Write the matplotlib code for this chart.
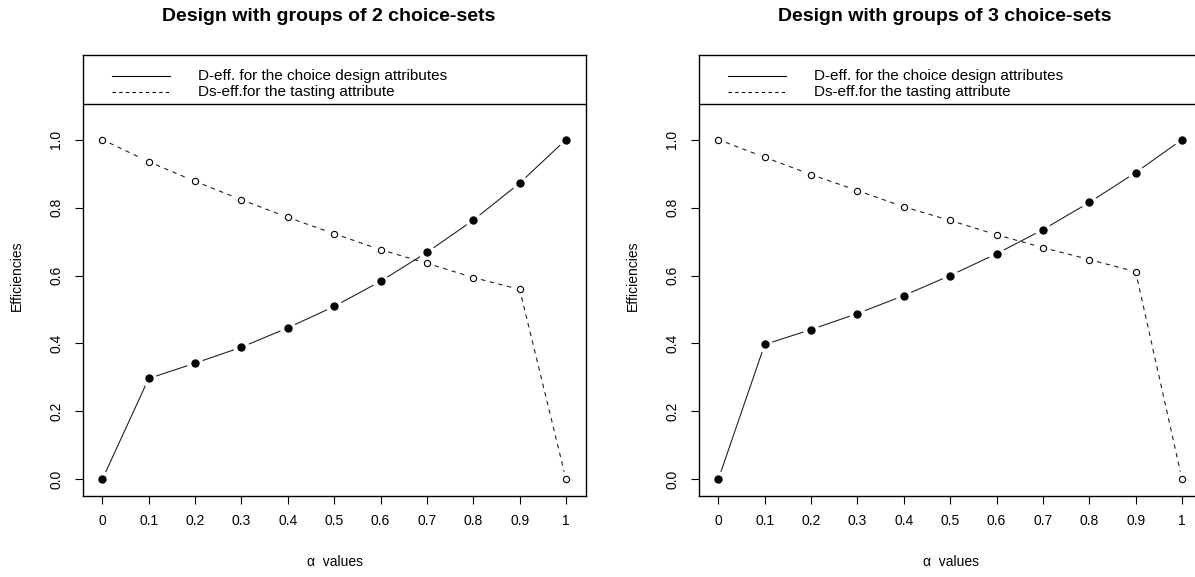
import numpy as np
import matplotlib
matplotlib.use("Agg")
import matplotlib.pyplot as plt

plt.rcParams['font.family'] = ['Liberation Sans', 'DejaVu Sans']

# valeurs de alpha
alpha = [0, 0.1, 0.2, 0.3, 0.4, 0.5, 0.6, 0.7, 0.8, 0.9, 1]
alpha_labels = ["0", "0.1", "0.2", "0.3", "0.4", "0.5", "0.6", "0.7", "0.8", "0.9", "1"]
y_ticks = [0.0, 0.2, 0.4, 0.6, 0.8, 1.0]

# groupes de 2 choice-sets
d_eff_2 = [0.0, 0.297, 0.342, 0.389, 0.446, 0.509, 0.583, 0.668, 0.763, 0.872, 1.0]
ds_eff_2 = [1.0, 0.935, 0.877, 0.823, 0.771, 0.723, 0.676, 0.636, 0.594, 0.559, 0.0]

# groupes de 3 choice-sets
d_eff_3 = [0.0, 0.397, 0.441, 0.488, 0.541, 0.600, 0.664, 0.735, 0.815, 0.903, 1.0]
ds_eff_3 = [1.0, 0.948, 0.897, 0.850, 0.802, 0.762, 0.720, 0.682, 0.647, 0.611, 0.0]

titres = ["Design with groups of 2 choice-sets", "Design with groups of 3 choice-sets"]
legende = ["D-eff. for the choice design attributes", "Ds-eff.for the tasting attribute"]

W, H = 1195, 577
fig = plt.figure(figsize=(W / 100, H / 100), dpi=100)


def ligne_b(ax, x, y, ls, gap=8):
    # comme type="b" en R : segments interrompus autour des points
    pts = ax.transData.transform(np.column_stack([x, y]))
    inv = ax.transData.inverted()
    for p0, p1 in zip(pts[:-1], pts[1:]):
        d = p1 - p0
        L = np.hypot(*d)
        if L <= 2 * gap:
            continue
        a = inv.transform(p0 + d / L * gap)
        b = inv.transform(p1 - d / L * gap)
        ax.plot([a[0], b[0]], [a[1], b[1]], color="#222222", lw=0.8,
                linestyle=ls, dashes=(4, 4) if ls == "--" else (None, None),
                solid_capstyle="butt")


def panneau(left, d_eff, ds_eff, titre):
    ax = fig.add_axes([left / W, (H - 495.7) / H, 502.7 / W, 440.4 / H])
    ax.set_xlim(-0.041, 1.043)
    ax.set_ylim(-0.048, 1.248)
    fig.canvas.draw()

    ligne_b(ax, alpha, d_eff, "-")
    ligne_b(ax, alpha, ds_eff, "--")
    ax.plot(alpha, d_eff, "o", color="black", markersize=5, zorder=3)
    ax.plot(alpha, ds_eff, "o", markerfacecolor="white", markeredgecolor="black",
            markersize=4.5, markeredgewidth=0.8, zorder=3)

    # cadre de la légende
    ax.axhline(1.1046, color="black", lw=1)
    for i, (txt, ls) in enumerate(zip(legende, ["-", "--"])):
        yy = [0.953, 0.9165][i]
        ax.plot([0.0565, 0.1725], [yy, yy], transform=ax.transAxes, color="black",
                lw=0.8, linestyle=ls, dashes=(3, 3) if ls == "--" else (None, None))
        ax.text(0.228, yy, txt, transform=ax.transAxes, fontsize=11, va="center")

    ax.set_xticks(alpha)
    ax.set_xticklabels(alpha_labels)
    ax.set_yticks(y_ticks)
    ax.set_yticklabels(["%.1f" % v for v in y_ticks], rotation=90, va="center")
    ax.tick_params(axis="both", direction="out", length=5.5, width=0.8, labelsize=10)
    ax.tick_params(axis="x", pad=8)
    ax.tick_params(axis="y", pad=9)
    for s in ax.spines.values():
        s.set_linewidth(1)

    ax.set_ylabel("Efficiencies", fontsize=10, labelpad=18)
    ax.set_xlabel("\u03b1  values", fontsize=10, labelpad=19)
    ax.set_title(titre, fontsize=14, fontweight="bold", x=0.488, pad=25)
    return ax


panneau(83.3, d_eff_2, ds_eff_2, titres[0])
panneau(699.3, d_eff_3, ds_eff_3, titres[1])

fig.savefig("out.png", dpi=100)
